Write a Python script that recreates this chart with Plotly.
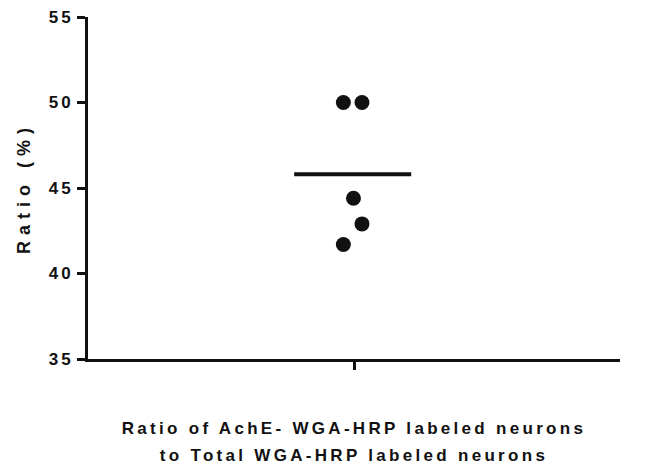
import plotly.graph_objects as go

categories = ["Ratio of AchE- WGA-HRP labeled neurons<br>to Total WGA-HRP labeled neurons"]
values = [50.0, 50.0, 44.4, 42.9, 41.7]
jitter = [-0.04, 0.03, -0.002, 0.03, -0.04]
y_ticks = [35, 40, 45, 50, 55]

mean_val = sum(values) / len(values)

fig = go.Figure()
fig.add_trace(go.Scatter(
    x=jitter, y=values, mode="markers",
    marker=dict(color="#111111", size=15, line=dict(width=0)),
    showlegend=False, hoverinfo="y"))
fig.add_trace(go.Scatter(
    x=[-0.225, 0.215], y=[mean_val, mean_val], mode="lines",
    line=dict(color="#111111", width=4),
    showlegend=False, hoverinfo="y"))

font_family = "Liberation Sans, Arial, sans-serif"
fig.update_layout(
    width=646, height=469,
    margin=dict(l=88, r=26, t=17, b=110),
    plot_bgcolor="white", paper_bgcolor="white",
    font=dict(family=font_family, color="#111111", size=16, weight="bold"),
    xaxis=dict(
        range=[-1, 1], tickvals=[0], ticktext=[""],
        showline=True, linecolor="#111111", linewidth=3,
        ticks="outside", ticklen=8, tickwidth=3, tickcolor="#111111",
        showgrid=False, zeroline=False, fixedrange=True, automargin=False,
        title=dict(text=categories[0], standoff=50,
                   font=dict(size=17, family=font_family, weight="bold", color="#111111")),
    ),
    yaxis=dict(
        range=[35, 55], tickvals=y_ticks,
        showline=True, linecolor="#111111", linewidth=3,
        ticks="outside", ticklen=8, tickwidth=3, tickcolor="#111111",
        showgrid=False, zeroline=False, automargin=False,
        tickfont=dict(size=17, family=font_family, weight="bold", color="#111111"),
        title=dict(text="Ratio (%)", standoff=20,
                   font=dict(size=18, family=font_family, weight="bold", color="#111111")),
    ),
)

post = """
document.body.style.margin = '0';
function spacing(){
  document.querySelectorAll('.ytick text').forEach(function(t){t.style.letterSpacing='3px';});
  document.querySelectorAll('.g-ytitle text').forEach(function(t){t.style.letterSpacing='6px';});
  document.querySelectorAll('.g-xtitle text').forEach(function(t){t.style.letterSpacing='3.3px';});
  document.querySelectorAll('.g-xtitle tspan.line').forEach(function(t, i){ if (i > 0) t.setAttribute('dy', '1.6em'); });
}
spacing();
var gd = document.getElementsByClassName('plotly-graph-div')[0];
gd.on('plotly_afterplot', spacing);
"""
fig.write_html("out.html", post_script=post, config={"displayModeBar": False})
